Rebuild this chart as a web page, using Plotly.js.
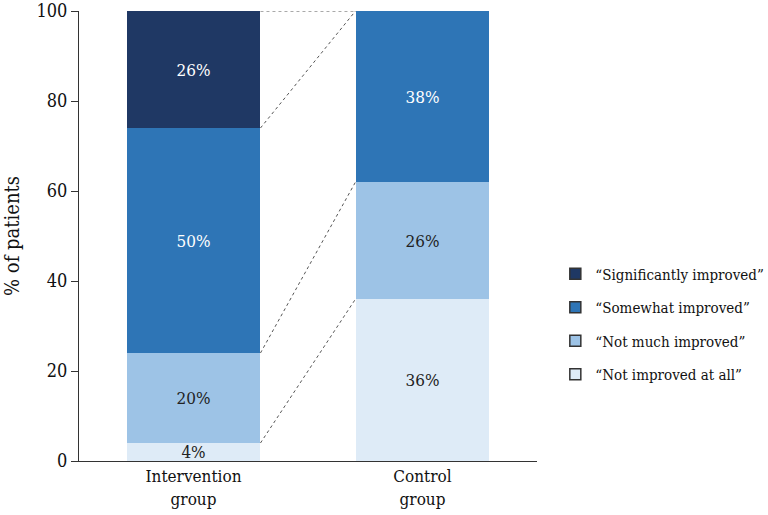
<!DOCTYPE html>
<html>
<head>
<meta charset="utf-8">
<script src="https://cdn.plot.ly/plotly-3.0.1.min.js"></script>
<style>html,body{margin:0;padding:0;background:#fff}#chart{width:768px;height:515px}</style>
</head>
<body>
<div id="chart"></div>
<script>
const groups = ['Intervention<br>group', 'Control<br>group'];
const seriesNames = ['\u201CNot improved at all\u201D', '\u201CNot much improved\u201D', '\u201CSomewhat improved\u201D', '\u201CSignificantly improved\u201D'];
const notImproved = [4, 36];
const notMuch = [20, 26];
const somewhat = [50, 38];
const significantly = [26, 0];
const yTicks = [0, 20, 40, 60, 80, 100];

const seriesValues = [notImproved, notMuch, somewhat, significantly];
const colors = ['#DEEBF7', '#9DC3E6', '#2E75B6', '#1F3864'];
const textColors = ['#222', '#222', '#fff', '#fff'];
const barWidth = 0.585;
const font = '"DejaVu Serif Condensed", "DejaVu Serif", serif';

const traces = [];
seriesValues.forEach((vals, i) => {
  traces.push({
    type: 'bar', x: groups, y: vals, width: barWidth,
    marker: {color: colors[i], line: {width: 0}},
    text: vals.map(v => v > 0 ? v + '%' : ''),
    textposition: 'inside', insidetextanchor: 'middle', textangle: 0,
    constraintext: 'none',
    textfont: {family: font, size: 17, color: textColors[i]},
    hoverinfo: 'skip', showlegend: false
  });
});
for (let i = seriesValues.length - 1; i >= 0; i--) {
  traces.push({
    type: 'scatter', mode: 'markers', x: [null], y: [null],
    name: seriesNames[i], legendgroup: 'g' + i,
    marker: {symbol: 'square', size: 11, color: colors[i], line: {color: '#333', width: 1.5}},
    hoverinfo: 'skip'
  });
}

const shapes = [];
const cumA = [], cumB = [];
let a = 0, b = 0;
seriesValues.forEach(vals => { a += vals[0]; b += vals[1]; cumA.push(a); cumB.push(b); });
cumA.forEach((ya, i) => {
  shapes.push({
    type: 'line', xref: 'x', yref: 'y',
    x0: 0 + barWidth / 2, x1: 1 - barWidth / 2, y0: ya, y1: cumB[i],
    line: {color: '#555', width: 1, dash: 'dot'}
  });
});

const layout = {
  width: 768, height: 515,
  margin: {l: 79, r: 231, t: 11, b: 54, autoexpand: false},
  barmode: 'stack',
  paper_bgcolor: '#fff', plot_bgcolor: '#fff',
  font: {family: font, color: '#111'},
  xaxis: {
    type: 'category', range: [-0.5, 1.5],
    showline: true, linecolor: '#333', linewidth: 1,
    ticks: '', tickfont: {family: font, size: 17, color: '#111'},
    showgrid: false, zeroline: false, fixedrange: true, automargin: false
  },
  yaxis: {
    range: [0, 100], tickvals: yTicks, ticktext: yTicks.map(String),
    ticklabeloverflow: 'allow',
    showline: true, linecolor: '#333', linewidth: 1,
    ticks: 'outside', ticklen: 7, tickcolor: '#333',
    tickfont: {family: font, size: 18, color: '#111'},
    showgrid: false, zeroline: false, automargin: false,
    title: {text: '% of patients', font: {family: font, size: 20, color: '#111'}, standoff: 14}
  },
  legend: {
    x: 1.04, y: 0.452, xanchor: 'left', yanchor: 'top',
    traceorder: 'grouped', tracegroupgap: 11,
    font: {family: font, size: 15, color: '#111'},
    itemwidth: 30
  },
  shapes: shapes,
  showlegend: true
};

Plotly.newPlot('chart', traces, layout, {displayModeBar: false, staticPlot: true});
</script>
</body>
</html>
